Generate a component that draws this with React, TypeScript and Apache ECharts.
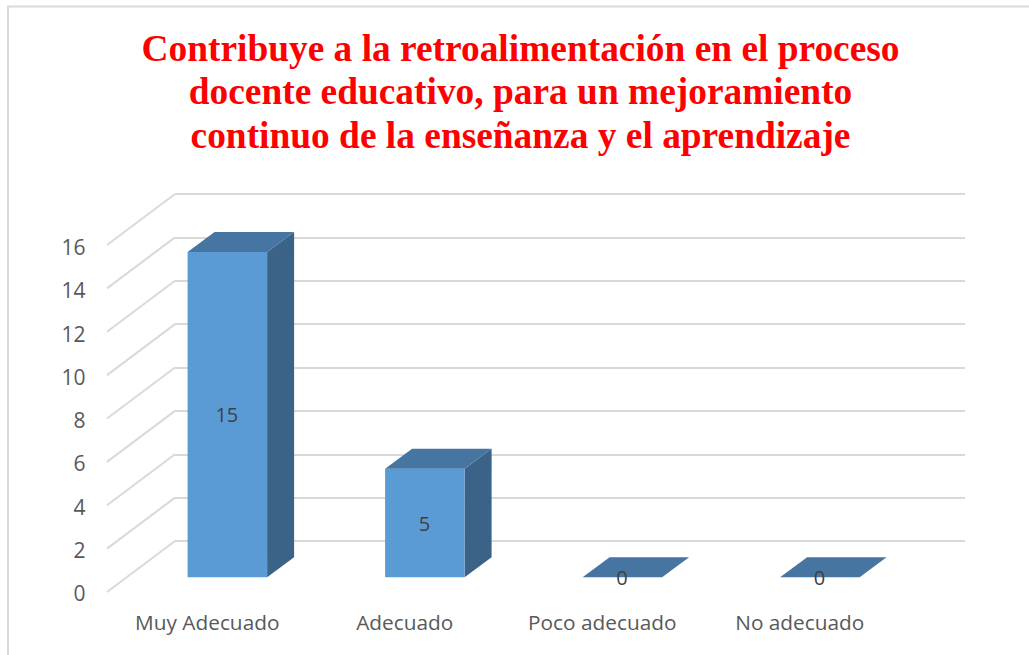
import React, { useEffect, useRef } from "react";
import * as echarts from "echarts";

const titleLines = [
  "Contribuye a la retroalimentación en el proceso",
  "docente educativo, para un mejoramiento",
  "continuo de la enseñanza y el aprendizaje",
];
const categories = ["Muy Adecuado", "Adecuado", "Poco adecuado", "No adecuado"];
const values = [15, 5, 0, 0];
const yTicks = [0, 2, 4, 6, 8, 10, 12, 14, 16];

const FACE = "#5b9bd5";
const TOP = "#4675a1";
const SIDE = "#3a6387";
const GRID = "#d9d9d9";
const AXIS_TEXT = "#595959";
const LABEL_TEXT = "#404040";
const FONT = "'Open Sans', sans-serif";

// Offset of the plane holding the bars' faces, relative to the back wall
const FRONT_DX = -46.4;
const FRONT_DY = 36.3;
const DEPTH_DX = 27;
const DEPTH_DY = -20;
const BAR_W = 79.5;
// Offset of the front edge of the floor relative to the back wall
const EDGE_DX = -68;
const EDGE_DY = 51;

export default function App() {
  const ref = useRef<HTMLDivElement>(null);
  useEffect(() => {
    document.body.style.margin = "0";
    const chart = echarts.init(ref.current!, null, { renderer: "svg", width: 1029, height: 655 });
    chart.setOption({
      animation: false,
      backgroundColor: "#ffffff",
      title: {
        text: titleLines.join("\n"),
        left: 515.5,
        top: 21.5,
        textAlign: "center",
        textStyle: {
          fontFamily: "'Liberation Serif', serif",
          fontWeight: "bold",
          fontSize: 37.4,
          lineHeight: 43.5,
          color: "#ff0000",
        },
      },
      graphic: [
        {
          type: "polyline",
          silent: true,
          shape: { points: [[8, 656], [8, 6.5], [1030, 6.5]] },
          style: { stroke: GRID, lineWidth: 2, fill: "none" },
        },
      ],
      grid: [
        { left: 175, top: 194, width: 790, height: 347 },
        { left: 108.5, top: 247, width: 790, height: 346 },
      ],
      xAxis: [
        {
          gridIndex: 0,
          type: "category",
          data: categories,
          axisLine: { show: false },
          axisTick: { show: false },
          axisLabel: { show: false },
          splitLine: { show: false },
        },
        {
          gridIndex: 1,
          type: "category",
          data: categories,
          axisLine: { show: false },
          axisTick: { show: false },
          splitLine: { show: false },
          axisLabel: { color: AXIS_TEXT, fontFamily: FONT, fontSize: 20.8, margin: 18, interval: 0 },
        },
      ],
      yAxis: [
        {
          gridIndex: 0,
          type: "value",
          min: 0,
          max: 16,
          interval: 2,
          axisLine: { show: false },
          axisTick: { show: false },
          axisLabel: { show: false },
          splitLine: { show: true, lineStyle: { color: GRID, width: 2 } },
        },
        {
          gridIndex: 1,
          type: "value",
          min: 0,
          max: 16,
          interval: 2,
          axisLine: { show: false },
          axisTick: { show: false },
          splitLine: { show: false },
          axisLabel: { color: AXIS_TEXT, fontFamily: FONT, fontSize: 21, margin: 23 },
        },
      ],
      series: [
        {
          type: "custom",
          name: "edges",
          xAxisIndex: 0,
          yAxisIndex: 0,
          silent: true,
          z: 1,
          data: yTicks.map((v) => [0, v]),
          renderItem: (params: any, api: any) => {
            const y = api.coord([0, api.value(1)])[1];
            const x = params.coordSys.x;
            return {
              type: "line",
              shape: { x1: x, y1: y, x2: x + EDGE_DX, y2: y + EDGE_DY },
              style: { stroke: GRID, lineWidth: 2, fill: "none" },
            };
          },
        },
        {
          type: "custom",
          name: "bars",
          xAxisIndex: 0,
          yAxisIndex: 0,
          silent: true,
          z: 3,
          data: values.map((v, i) => [i, v]),
          renderItem: (_params: any, api: any) => {
            const v = api.value(1);
            const top = api.coord([api.value(0), v]);
            const base = api.coord([api.value(0), 0]);
            const xl = top[0] + FRONT_DX - BAR_W / 2;
            const xr = xl + BAR_W;
            const yt = top[1] + FRONT_DY;
            const yb = base[1] + FRONT_DY;
            const children: any[] = [];
            if (v > 0) {
              children.push({
                type: "polygon",
                shape: { points: [[xr, yt], [xr + DEPTH_DX, yt + DEPTH_DY], [xr + DEPTH_DX, yb + DEPTH_DY], [xr, yb]] },
                style: { fill: SIDE },
              });
              children.push({
                type: "rect",
                shape: { x: xl, y: yt, width: BAR_W, height: yb - yt },
                style: { fill: FACE },
              });
            }
            children.push({
              type: "polygon",
              shape: { points: [[xl, yt], [xl + DEPTH_DX, yt + DEPTH_DY], [xr + DEPTH_DX, yt + DEPTH_DY], [xr, yt]] },
              style: { fill: TOP },
            });
            children.push({
              type: "text",
              x: (xl + xr) / 2 - 0.5,
              y: (yt + yb) / 2,
              style: {
                text: String(v),
                fill: LABEL_TEXT,
                font: `20px ${FONT}`,
                align: "center",
                verticalAlign: "middle",
              },
            });
            return { type: "group", children };
          },
        },
      ],
    });
    return () => chart.dispose();
  }, []);
  return (
    <div
      ref={ref}
      style={{ position: "absolute", left: 0, top: 0, width: 1029, height: 655, background: "#fff" }}
    />
  );
}
